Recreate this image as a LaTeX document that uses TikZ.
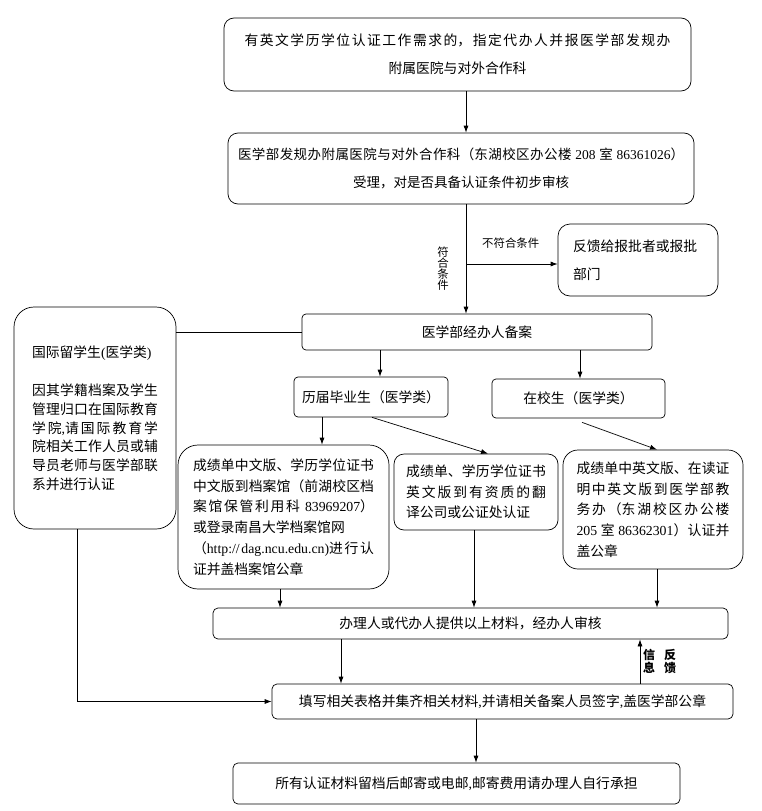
\documentclass[tikz,border=0pt]{standalone}
\usepackage{fontspec}
\setmainfont{Noto Sans CJK SC}
\newfontfamily\latf{Liberation Serif}
\usetikzlibrary{arrows.meta,positioning,calc}
\XeTeXlinebreaklocale "zh"
\XeTeXlinebreakskip=0pt plus 2pt
\newcommand{\en}[1]{{\latf #1}}
\newcommand{\ctr}{\hspace*{0pt plus 1fil}}
\tikzset{
  box/.style={draw, line width=0.7pt, inner sep=0pt, font=\fontsize{13.8}{20.7}\selectfont},
  wide/.style={box, rounded corners=10pt, align=justify, font=\fontsize{13.8}{28}\selectfont},
  link/.style={-{Latex[length=7pt,width=5pt]}, line width=0.7pt},
  wire/.style={line width=0.7pt},
  note/.style={inner sep=0pt, align=center, font=\fontsize{11.4}{11}\selectfont},
}

\begin{document}
\begin{tikzpicture}[x=1pt, y=-1pt]
  \useasboundingbox (0,0) rectangle (762,811);
  % boxes
  \node[wide, minimum width=467pt, minimum height=73pt, text width=426pt] (need) at (457.5,54.5)
    {有英文学历学位认证工作需求的，指定代办人并报医学部发规办\linebreak\ctr 附属医院与对外合作科};
  \node[wide, minimum width=466pt, minimum height=71pt, text width=446pt, font=\fontsize{13.5}{28}\selectfont] (accept) at (461,168.5)
    {医学部发规办附属医院与对外合作科（东湖校区办公楼\en{ 208 }室\en{ 86361026}）\linebreak\ctr 受理，对是否具备认证条件初步审核};
  \node[box, rounded corners=12pt, minimum width=160pt, minimum height=72pt, text width=130pt, align=left,
    font=\fontsize{13.8}{28}\selectfont] (back) at (638,260) {反馈给报批者或报批\\部门};
  \node[box, rounded corners=4pt, minimum width=350pt, minimum height=36pt] (file) at (477,332) {医学部经办人备案};
  \node[box, rounded corners=20pt, minimum width=162pt, minimum height=222pt, text width=126pt, align=justify,
    font=\fontsize{13.8}{18.7}\selectfont] (intl) at (95,418)
    {国际留学生\en{(}医学类\en{)}\par\vspace{20pt}因其学籍档案及学生\linebreak 管理归口在国际教育\linebreak
     学院\en{,}请国际教育学\linebreak 院相关工作人员或辅\linebreak 导员老师与医学部联\linebreak 系并进行认证};
  \node[box, rounded corners=4pt, minimum width=154pt, minimum height=40pt] (grad) at (371,397) {历届毕业生（医学类）};
  \node[box, rounded corners=4pt, minimum width=173pt, minimum height=39pt] (cur) at (578.5,398.5) {在校生（医学类）};
  \node[box, rounded corners=20pt, minimum width=211pt, minimum height=144pt, text width=181pt, align=justify] (arch) at (283.5,517)
    {成绩单中文版、学历学位证书\linebreak 中文版到档案馆（前湖校区档\linebreak 案馆保管利用科\en{ 83969207}）\linebreak
     或登录南昌大学档案馆网\newline（\en{http://dag.ncu.edu.cn)}进行认\linebreak 证并盖档案馆公章};
  \node[box, rounded corners=10pt, minimum width=164pt, minimum height=76pt, text width=140pt, align=justify] (trans) at (476,492)
    {成绩单、学历学位证书\linebreak 英文版到有资质的翻\linebreak 译公司或公证处认证};
  \node[box, rounded corners=15pt, minimum width=180pt, minimum height=119pt, text width=153pt, align=justify] (edu) at (653,509.5)
    {成绩单中英文版、在读证\linebreak 明中英文版到医学部教\linebreak 务办（东湖校区办公楼\linebreak
     \en{205 }室\en{ 86362301}）认证并\linebreak 盖公章};
  \node[box, rounded corners=5pt, minimum width=515pt, minimum height=31pt] (check) at (470.5,623.5) {办理人或代办人提供以上材料，经办人审核};
  \node[box, rounded corners=5pt, minimum width=461pt, minimum height=35pt] (form) at (502.5,701.5)
    {填写相关表格并集齐相关材料\en{,}并请相关备案人员签字\en{,}盖医学部公章};
  \node[box, rounded corners=5pt, minimum width=447pt, minimum height=41pt] (mail) at (456.5,783.5)
    {所有认证材料留档后邮寄或电邮\en{,}邮寄费用请办理人自行承担};
  % connectors
  \coordinate (s1) at ([xshift=8.5pt]need.south);
  \draw[link] (s1) -- (s1 |- accept.north);
  \coordinate (s2) at ([xshift=5pt]accept.south);
  \draw[link] (s2) -- (s2 |- file.north);
  \coordinate (bw) at ([yshift=-4pt]back.west);
  \coordinate (fork) at (s2 |- bw);
  \draw[link] (fork) -- (bw);
  \node[note, anchor=south west] (no) at ([xshift=16pt, yshift=15pt]fork) {不符合条件};
  \node[note, anchor=east] (yes) at ([xshift=-17pt, yshift=-5pt]fork) {符\\合\\条\\件};
  \draw[wire] (intl.east |- file.west) -- (file.west);
  \coordinate (s3) at ([xshift=-97pt]file.south);
  \draw[link] (s3) -- (s3 |- grad.north);
  \coordinate (s4) at ([xshift=103pt]file.south);
  \draw[link] (s4) -- (s4 |- cur.north);
  \coordinate (s5) at ([xshift=-49pt]grad.south);
  \draw[link] (s5) -- (s5 |- arch.north);
  \draw[link] ([xshift=1pt]grad.south) -- ([xshift=12pt]trans.north);
  \draw[link] ([xshift=3.5pt, yshift=-4pt]cur.south) -- ([xshift=4pt]edu.north);
  \coordinate (s6) at ([xshift=-3.5pt]arch.south);
  \draw[link] (s6) -- (s6 |- check.north);
  \coordinate (s7) at ([xshift=-2pt]trans.south);
  \draw[link] (s7) -- (s7 |- check.north);
  \coordinate (s8) at ([xshift=4pt]edu.south);
  \draw[link] (s8) -- (s8 |- check.north);
  \coordinate (s9) at ([xshift=-129.5pt]check.south);
  \draw[link] (s9) -- (s9 |- form.north);
  \coordinate (up) at ([xshift=137.5pt]form.north);
  \draw[link] (up) -- (up |- check.south);
  \coordinate (upm) at ($(up)!0.5!(up |- check.south)$);
  \node[note, font=\fontsize{12}{12.5}\selectfont\bfseries, right=3pt of upm] (info) {信\hspace{9pt}反\\息\hspace{9pt}馈};
  \coordinate (s10) at ([xshift=-18pt]intl.south);
  \draw[link] (s10) |- (form.west);
  \coordinate (s11) at ([xshift=-26.5pt]form.south);
  \draw[link] (s11) -- (s11 |- mail.north);
\end{tikzpicture}
\end{document}
